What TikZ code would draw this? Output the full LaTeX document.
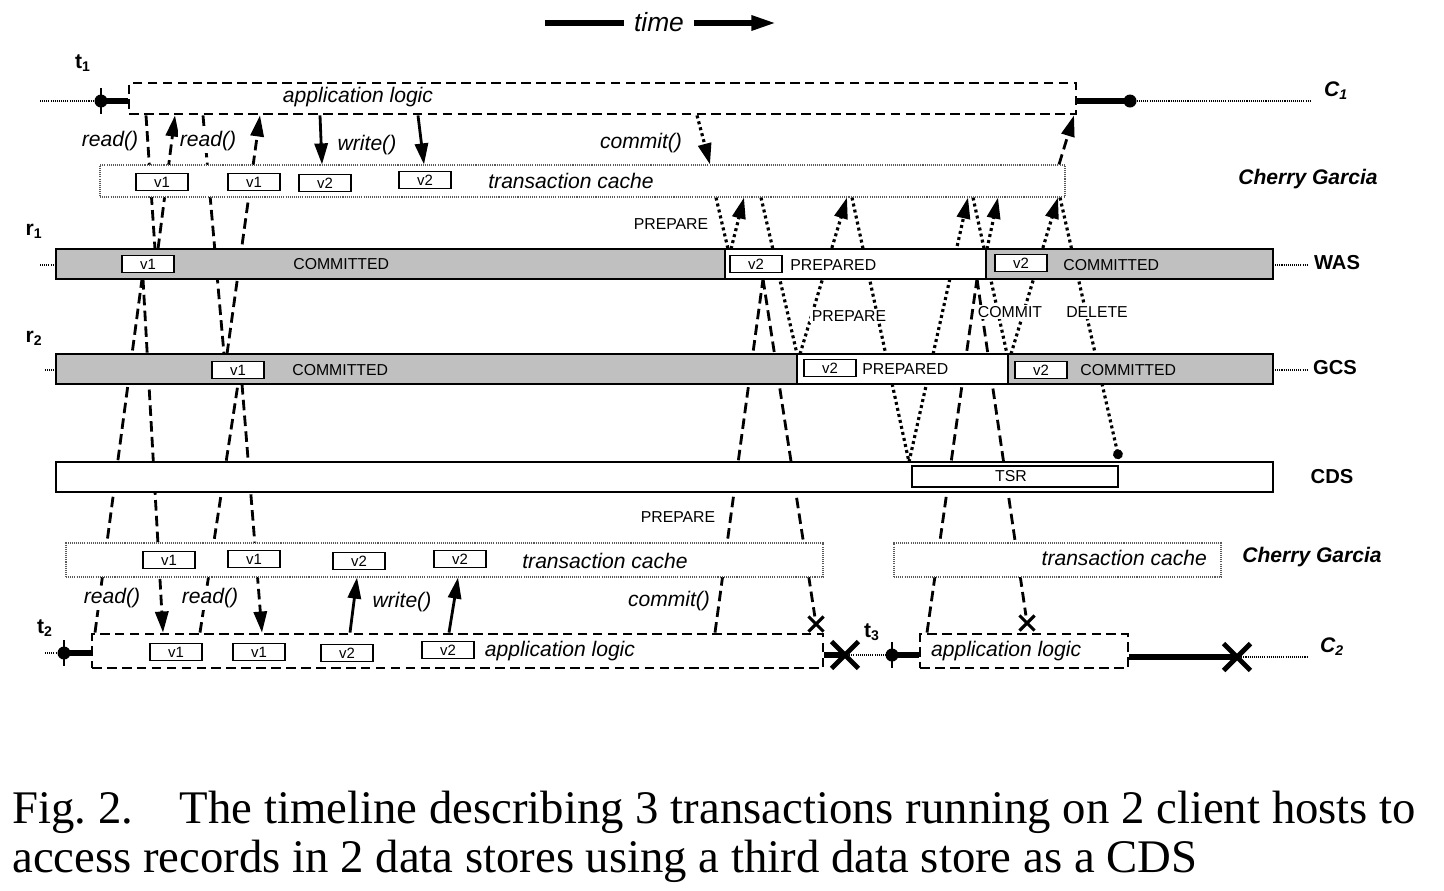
\documentclass[tikz,border=0pt]{standalone}
\usepackage{fontspec}
\setmainfont{Liberation Sans}
\newfontfamily\capfont{Liberation Serif}
\usetikzlibrary{arrows.meta,fit,backgrounds,shapes.misc}
\definecolor{barfill}{RGB}{192,192,192}

\begin{document}
\begin{tikzpicture}[x={(0.02cm,0)},y={(0,-0.02cm)},>={Triangle[length=12pt,width=7.5pt]},
  seg/.style={draw,line width=1.1pt,inner sep=0pt,outer sep=0pt},
  gseg/.style={seg,fill=barfill},
  wseg/.style={seg,fill=white},
  ver/.style={draw,line width=1.1pt,fill=white,minimum width=1.04cm,minimum height=0.34cm,inner sep=0pt,font=\fontsize{8.5}{9}\selectfont},
  cache/.style={draw=black!65,line width=0.6pt,dash pattern=on 0.6pt off 0.6pt,fill=white,inner sep=0pt},
  app/.style={draw,line width=1.6pt,dash pattern=on 5.5pt off 3pt,fill=white,inner sep=0pt},
  call/.style={font=\fontsize{12}{13}\selectfont\itshape,inner sep=1pt,fill=white},
  state/.style={font=\fontsize{9}{10}\selectfont,inner sep=0pt},
  step2/.style={state,fill=white,inner sep=1pt},
  store/.style={font=\fontsize{11.5}{12}\selectfont\bfseries},
  lib/.style={font=\fontsize{12}{13}\selectfont\bfseries\itshape},
  host/.style={font=\fontsize{12}{13}\selectfont\bfseries},
  cname/.style={font=\fontsize{12}{13}\selectfont\bfseries\itshape},
  dot/.style={circle,fill,inner sep=0pt,minimum size=0.26cm},
  guide/.style={line width=0.6pt,dash pattern=on 0.6pt off 0.6pt},
  tick/.style={line width=0.8pt},
  life/.style={line width=3.6pt},
  req/.style={line width=1.6pt,dash pattern=on 6pt off 3pt},
  msg/.style={line width=1.8pt,dash pattern=on 1.7pt off 1.8pt},
  wr/.style={line width=1.6pt},
  kill/.style={draw,cross out,line width=2.8pt,minimum size=0.44cm,inner sep=0pt},
  abort/.style={draw,cross out,line width=1.8pt,minimum size=0.24cm,inner sep=0pt}]
\useasboundingbox (0,0) rectangle (1444,890);

% time axis
\node[font=\fontsize{15}{16}\selectfont\itshape,inner sep=0.2cm] (time) at (659,22) {time};
\coordinate (tstart) at (545,23);
\coordinate (tend) at (776,23);
\draw[line width=3.2pt] (tstart) -- (tstart -| time.west);
\draw[line width=3.2pt,-{Triangle[length=14pt,width=8pt]}] (time.east |- tend) -- (tend);

% client 1
\node[app,fit={(129,83) (1076,114)}] (app1) {};
\node[call] (al1) at (358,97) {application logic};
\node[dot] (t1dot) at (101,101) {};
\draw[tick] (t1dot.center) ++(0,-13) -- ++(0,26);
\coordinate (c1in) at (40,101);
\draw[guide] (c1in) -- (t1dot);
\draw[life] (t1dot.center) -- (t1dot.center -| app1.west);
\node[dot] (c1dot) at (1130,101) {};
\draw[life] (app1.east |- c1dot) -- (c1dot.center);
\coordinate (c1out) at (1310,101);
\draw[guide] (c1dot) -- (c1out);
\node[host] (t1) at (83,63) {t\textsubscript{1}};
\node[cname] (c1) at (1336,91) {C\textsubscript{1}};

\node[cache,fit={(100,165) (1065,197)}] (cache1) {};
\node[call] (tc1) at (571,181) {transaction cache};
\node[ver] (cv1) at (162,182) {v1};
\node[ver] (cv2) at (254,182) {v1};
\node[ver] (cv3) at (325,183) {v2};
\node[ver] (cv4) at (425,180) {v2};
\node[lib] (cg1) at (1308,179) {Cherry Garcia};

\node[call] (rd1) at (110,141) {read()};
\node[call] (rd2) at (208,141) {read()};
\node[call] (wr1) at (367,145) {write()};
\node[call] (cm1) at (641,143) {commit()};
\node[state] (pr1) at (671,224) {PREPARE};

% WAS
\node[gseg,fit={(56,249) (725,279)}] (wasA) {};
\node[wseg,fit={(725,249) (986,279)}] (wasB) {};
\node[gseg,fit={(986,249) (1273,279)}] (wasC) {};
\node[ver] (wv1) at (148,264) {v1};
\node[ver] (wv2) at (756,264) {v2};
\node[ver] (wv3) at (1021,263) {v2};
\node[state,anchor=west] (ws1) at (293,264) {COMMITTED};
\node[state,anchor=west] (ws2) at (790,265) {PREPARED};
\node[state,anchor=west] (ws3) at (1063,265) {COMMITTED};
\node[store] (was) at (1337,263) {WAS};
\coordinate (wasin) at (40,265);
\draw[guide] (wasin) -- (wasin -| wasA.west);
\draw[guide] (wasC.east |- wasin) -- (was.west |- wasin);
\node[host] (r1) at (34,231) {r\textsubscript{1}};

\node[step2] (pr2) at (849,316) {PREPARE};
\node[step2] (cmt) at (1010,312) {COMMIT};
\node[step2] (del) at (1097,312) {DELETE};

% GCS
\node[gseg,fit={(56,354) (797,384)}] (gcsA) {};
\node[wseg,fit={(797,354) (1008,384)}] (gcsB) {};
\node[gseg,fit={(1008,354) (1273,384)}] (gcsC) {};
\node[ver] (gv1) at (238,370) {v1};
\node[ver] (gv2) at (830,368) {v2};
\node[ver] (gv3) at (1041,370) {v2};
\node[state,anchor=west] (gs1) at (292,370) {COMMITTED};
\node[state,anchor=west] (gs2) at (862,369) {PREPARED};
\node[state,anchor=west] (gs3) at (1080,370) {COMMITTED};
\node[store] (gcs) at (1335,368) {GCS};
\coordinate (gcsin) at (45,370);
\draw[guide] (gcsin) -- (gcsin -| gcsA.west);
\draw[guide] (gcsC.east |- gcsin) -- (gcs.west |- gcsin);
\node[host] (r2) at (34,338) {r\textsubscript{2}};

% CDS
\node[wseg,fit={(56,462) (1273,492)}] (cds) {};
\node[seg,fill=white,fit={(912,466) (1118,487)}] (tsr) {};
\node[state] (tsrt) at (1011,476) {TSR};
\node[store] (cdsl) at (1332,477) {CDS};
\coordinate (delend) at (1119,459);

% client 2
\node[state] (pr3) at (678,517) {PREPARE};
\node[cache,fit={(66,543) (823,577)}] (cache2) {};
\node[call] (tc2) at (605,561) {transaction cache};
\node[ver] (dv1) at (169,560) {v1};
\node[ver] (dv2) at (254,559) {v1};
\node[ver] (dv3) at (359,561) {v2};
\node[ver] (dv4) at (460,559) {v2};
\node[cache,fit={(894,543) (1221,577)}] (cache3) {};
\node[call,anchor=east] (tc3) at (1209,558) {transaction cache};
\node[lib] (cg2) at (1312,557) {Cherry Garcia};

\node[call] (rd3) at (112,598) {read()};
\node[call] (rd4) at (210,598) {read()};
\node[call] (wr2) at (402,602) {write()};
\node[call] (cm2) at (669,601) {commit()};

\node[app,fit={(92,634) (823,668)}] (app2) {};
\node[call] (al2) at (560,651) {application logic};
\node[ver] (av1) at (176,652) {v1};
\node[ver] (av2) at (259,652) {v1};
\node[ver] (av3) at (347,653) {v2};
\node[ver] (av4) at (448,650) {v2};
\node[dot] (t2dot) at (64,653) {};
\draw[tick] (t2dot.center) ++(0,-13) -- ++(0,26);
\coordinate (c2in) at (45,653);
\draw[guide] (c2in) -- (t2dot);
\draw[life] (t2dot.center) -- (t2dot.center -| app2.west);
\node[host] (t2) at (45,628) {t\textsubscript{2}};
\node[kill] (kill1) at (845,655) {};
\draw[life] (app2.east |- kill1) -- (kill1.center);
\node[dot] (t3dot) at (892,655) {};
\draw[tick] (t3dot.center) ++(0,-13) -- ++(0,26);
\draw[guide] (kill1.center) -- (t3dot.center);
\node[host] (t3) at (872,632) {t\textsubscript{3}};
\node[app,fit={(920,634) (1128,668)}] (app3) {};
\draw[life] (t3dot.center) -- (t3dot.center -| app3.west);
\node[call,anchor=west] (al3) at (929,651) {application logic};
\node[kill] (kill2) at (1237,657) {};
\draw[life] (app3.east |- kill2) -- (kill2.center);
\coordinate (c2out) at (1307,657);
\draw[guide] (kill2.center) -- (c2out);
\node[cname] (c2) at (1332,647) {C\textsubscript{2}};
\node[abort] (ab1) at (816,624) {};
\node[abort] (ab2) at (1027,623) {};

\begin{scope}[on background layer]
% client 1 reads and writes
\draw[req] (146,0 |- app1.south) -- (155,0 |- wasA.north);
\draw[req,->] (158,0 |- wasA.north) -- (175,0 |- app1.south);
\draw[req] (203,0 |- app1.south) -- (224,0 |- gcsA.north);
\draw[req,->] (227,0 |- gcsA.north) -- (260,0 |- app1.south);
\draw[wr,->] (320,0 |- app1.south) -- (322,0 |- cache1.north);
\draw[wr,->] (418,0 |- app1.south) -- (424,0 |- cache1.north);
% client 1 commit
\draw[msg,->] (697,0 |- app1.south) -- (710,0 |- cache1.north);
\draw[msg] (716,0 |- cache1.south) -- (728,0 |- wasB.north);
\draw[msg,->] (731,0 |- wasB.north) -- (744,0 |- cache1.south);
\draw[msg] (761,0 |- cache1.south) -- (797,0 |- gcsB.north);
\draw[msg,->] (800,0 |- gcsB.north) -- (847,0 |- cache1.south);
\draw[msg] (852,0 |- cache1.south) -- (909,0 |- cds.north);
\draw[msg,->] (909,0 |- cds.north) -- (968,0 |- cache1.south);
\draw[msg] (973,0 |- cache1.south) -- (1007,0 |- gcsC.north);
\draw[msg,->] (987,0 |- wasC.north) -- (998,0 |- cache1.south);
\draw[msg,->] (1011,0 |- gcsC.north) -- (1058,0 |- cache1.south);
\draw[msg,-{Circle[length=5.5pt]}] (1060,0 |- cache1.south) -- (delend);
\draw[req,->] (1059,0 |- cache1.north) -- (1074,0 |- app1.south);
% client 2 reads and writes
\draw[req] (95,0 |- app2.north) -- (142,0 |- wasA.south);
\draw[req,->] (143,0 |- wasA.south) -- (163,0 |- app2.north);
\draw[req] (200,0 |- app2.north) -- (238,0 |- gcsA.south);
\draw[req,->] (242,0 |- gcsA.south) -- (262,0 |- app2.north);
\draw[wr,->] (350,0 |- app2.north) -- (357,0 |- cache2.south);
\draw[wr,->] (449,0 |- app2.north) -- (458,0 |- cache2.south);
% client 2 commit and t3
\draw[req] (715,0 |- app2.north) -- (763,0 |- wasB.south);
\draw[req] (763,0 |- wasB.south) -- (ab1);
\draw[req] (927,0 |- app3.north) -- (977,0 |- wasB.south);
\draw[req] (977,0 |- wasB.south) -- (ab2);
\end{scope}

% caption
\node[anchor=north west,inner sep=0pt,text width=28.08cm,align=justify,font=\capfont\fontsize{26.6}{27.8}\selectfont] (cap) at (12,791) {Fig.~2.\quad The timeline describing 3 transactions running on 2 client hosts to access records in 2 data stores using a third data store as a CDS};
\end{tikzpicture}
\end{document}
